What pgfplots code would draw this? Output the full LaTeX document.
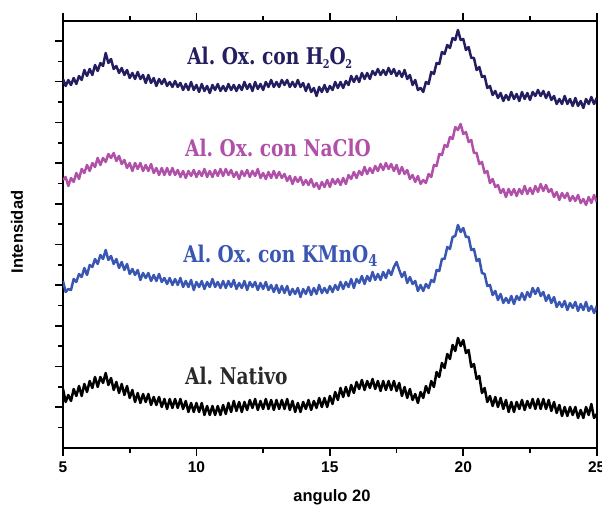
\documentclass[border=0pt]{standalone}
\usepackage{fontspec}
\setmainfont{Liberation Sans}
\newfontfamily\clar{DejaVu Serif Condensed}
\usepackage{pgfplots}
\usepackage{pgfplotstable}
\pgfplotsset{compat=1.18}
\definecolor{navyc}{HTML}{231E5F}
\definecolor{magc}{HTML}{B050A8}
\definecolor{bluec}{HTML}{3A56B3}
\definecolor{natc}{HTML}{2A2A2A}
\frenchspacing
\newcommand{\sub}[1]{\kern-0.5pt\raisebox{-3.5pt}{\fontsize{12}{12}\selectfont #1}}

% 2theta, then the four patterns (stacked, arbitrary units)
\pgfplotstableread{
x n m b k
5.0 369 268 167 59
5.1 362 271 156 46
5.2 368 262 159 53
5.3 363 270 158 47
5.4 370 266 169 59
5.5 364 275 166 52
5.6 372 269 174 62
5.7 368 279 171 52
5.8 378 275 180 64
5.9 372 283 173 56
6.0 379 277 183 67
6.1 373 285 181 60
6.2 383 281 189 71
6.3 377 290 184 61
6.4 385 283 193 71
6.5 382 290 189 65
6.6 395 286 198 75
6.7 385 294 188 63
6.8 389 290 192 70
6.9 379 295 184 58
7.0 382 287 189 66
7.1 375 292 180 55
7.2 380 284 186 64
7.3 373 288 178 53
7.4 378 280 184 62
7.5 370 285 174 50
7.6 375 277 179 58
7.7 369 285 173 46
7.8 376 279 178 55
7.9 369 285 168 45
8.0 373 277 175 54
8.1 365 283 170 46
8.2 373 277 175 54
8.3 365 284 167 43
8.4 370 275 173 51
8.5 362 280 167 43
8.6 369 273 174 51
8.7 364 280 166 41
8.8 369 273 170 49
8.9 362 280 164 39
9.0 366 273 170 49
9.1 361 280 163 40
9.2 367 273 169 49
9.3 361 278 163 40
9.4 365 271 170 49
9.5 358 277 161 39
9.6 364 270 167 47
9.7 358 277 161 36
9.8 366 272 168 45
9.9 358 278 158 36
10.0 363 271 166 45
10.1 356 277 161 36
10.2 364 272 167 45
10.3 357 279 159 33
10.4 362 271 166 42
10.5 355 277 161 33
10.6 363 271 169 42
10.7 358 278 161 33
10.8 364 272 166 42
10.9 357 279 160 33
11.0 362 272 167 43
11.1 357 279 160 34
11.2 364 273 167 45
11.3 358 278 161 36
11.4 363 271 168 47
11.5 357 276 159 37
11.6 363 269 165 46
11.7 358 277 160 36
11.8 366 272 167 46
11.9 359 278 158 38
12.0 364 271 166 48
12.1 357 277 161 40
12.2 366 272 166 49
12.3 359 279 158 38
12.4 364 270 165 47
12.5 358 275 159 39
12.6 366 269 166 49
12.7 361 276 158 39
12.8 368 270 163 48
12.9 361 277 156 38
13.0 366 270 163 48
13.1 361 276 155 39
13.2 368 270 162 48
13.3 363 274 155 39
13.4 368 267 162 49
13.5 361 272 153 38
13.6 366 264 159 47
13.7 361 271 154 36
13.8 368 266 160 45
13.9 361 271 151 36
14.0 365 263 159 46
14.1 357 268 154 39
14.2 364 263 161 48
14.3 356 269 153 38
14.4 360 261 160 47
14.5 352 265 154 40
14.6 361 259 163 50
14.7 356 266 155 41
14.8 363 261 160 50
14.9 356 268 155 41
15.0 362 261 162 52
15.1 358 269 156 44
15.2 366 264 163 56
15.3 360 269 158 48
15.4 366 263 166 60
15.5 360 270 159 51
15.6 367 264 166 61
15.7 363 273 161 52
15.8 372 269 169 63
15.9 366 276 160 55
16.0 372 270 169 66
16.1 366 277 165 59
16.2 375 273 172 68
16.3 369 281 164 58
16.4 375 274 172 67
16.5 369 280 167 60
16.6 377 275 176 69
16.7 373 282 168 59
16.8 379 277 174 67
16.9 373 284 168 57
17.0 378 278 176 67
17.1 373 285 170 58
17.2 380 279 178 67
17.3 374 284 173 58
17.4 379 277 181 67
17.5 372 283 186 57
17.6 377 274 178 65
17.7 371 281 171 52
17.8 378 274 176 61
17.9 369 278 165 50
18.0 373 269 171 59
18.1 363 273 164 48
18.2 368 266 167 54
18.3 358 272 157 45
18.4 360 264 163 56
18.5 356 268 157 50
18.6 366 265 164 62
18.7 364 274 160 55
18.8 376 271 168 67
18.9 374 283 166 61
19.0 385 282 178 76
19.1 384 294 177 71
19.2 396 293 189 85
19.3 394 303 189 80
19.4 403 301 201 94
19.5 400 311 199 89
19.6 410 309 211 103
19.7 408 321 212 97
19.8 418 318 223 110
19.9 408 324 216 102
20.0 409 314 220 108
20.1 398 316 211 95
20.2 401 306 211 98
20.3 390 308 198 81
20.4 390 295 199 84
20.5 378 295 187 69
20.6 381 284 189 72
20.7 371 286 175 55
20.8 372 275 174 60
20.9 360 277 162 46
21.0 362 265 163 52
21.1 353 269 153 42
21.2 357 261 157 51
21.3 350 263 148 41
21.4 355 255 154 50
21.5 347 259 145 39
21.6 353 251 150 48
21.7 348 259 145 36
21.8 356 253 152 46
21.9 349 259 144 36
22.0 354 252 152 46
22.1 347 259 148 39
22.2 356 254 155 48
22.3 349 262 148 38
22.4 355 254 156 47
22.5 348 260 151 40
22.6 356 254 160 49
22.7 352 262 154 39
22.8 358 256 160 49
22.9 352 264 152 39
23.0 357 257 156 49
23.1 350 263 147 39
23.2 356 256 153 48
23.3 348 259 145 37
23.4 352 251 151 46
23.5 344 256 141 35
23.6 349 248 146 43
23.7 344 255 141 32
23.8 352 250 147 41
23.9 344 255 138 32
24.0 349 247 145 41
24.1 342 252 140 33
24.2 350 247 146 41
24.3 342 253 137 30
24.4 347 245 144 38
24.5 340 249 138 30
24.6 349 243 146 41
24.7 344 251 137 33
24.8 351 245 142 44
24.9 344 253 135 30
25.0 350 246 142 34
}\xrd

\begin{document}
\begin{tikzpicture}
\begin{axis}[
  at={(0,0)}, anchor=south west,
  width=533.7pt, height=427.3pt, scale only axis,
  xmin=5, xmax=25, ymin=0, ymax=427.3,
  xtick={5,10,15,20,25}, minor xtick={7.5,12.5,17.5,22.5},
  ytick={40.7,81.4,122.1,162.8,203.5,244.2,284.9,325.6,366.3,407.0},
  minor ytick={20.35,61.05,101.75,142.45,183.15,223.85,264.55,305.25,345.95,386.65},
  yticklabels={},
  xtick pos=both, xticklabel pos=bottom, ytick pos=left,
  tick align=outside, major tick length=8pt, minor tick length=5pt,
  every tick/.style={black, line width=1.6pt},
  axis line style={line width=1.8pt},
  /pgf/number format/assume math mode=true,
  ticklabel style={font=\fontsize{15.5}{17}\selectfont\bfseries},
  xticklabel style={yshift=-2pt},
  xlabel={angulo 20}, ylabel={Intensidad},
  label style={font=\fontsize{16.5}{19}\selectfont\bfseries},
  xlabel style={at={(axis description cs:0.504,-0.1147)}, anchor=center},
  ylabel style={at={(axis description cs:-0.0862,0.5055)}, anchor=center},
  every axis plot/.append style={line width=2.5pt, line join=round, no markers},
]
\addplot[navyc] table[x=x, y=n] {\xrd};
\addplot[magc] table[x=x, y=m] {\xrd};
\addplot[bluec] table[x=x, y=b] {\xrd};
\addplot[black] table[x=x, y=k] {\xrd};

\tikzset{clab/.style={anchor=base west, inner sep=0, xscale=0.9, transform shape,
  font=\clar\fontsize{23}{26}\selectfont\bfseries}}
\node[clab, text=navyc] at (axis cs:9.65,383) {Al. Ox. con H\sub{2}O\sub{2}};
\node[clab, text=magc] at (axis cs:9.57,291) {Al. Ox. con NaClO};
\node[clab, text=bluec] at (axis cs:9.50,185) {Al. Ox. con KMnO\textsubscript{4}};
\node[clab, text=natc] at (axis cs:9.57,63) {Al. Nativo};
\end{axis}
\pgfresetboundingbox
\useasboundingbox (-63pt,-57pt) rectangle (539pt,448pt);
\end{tikzpicture}
\end{document}
